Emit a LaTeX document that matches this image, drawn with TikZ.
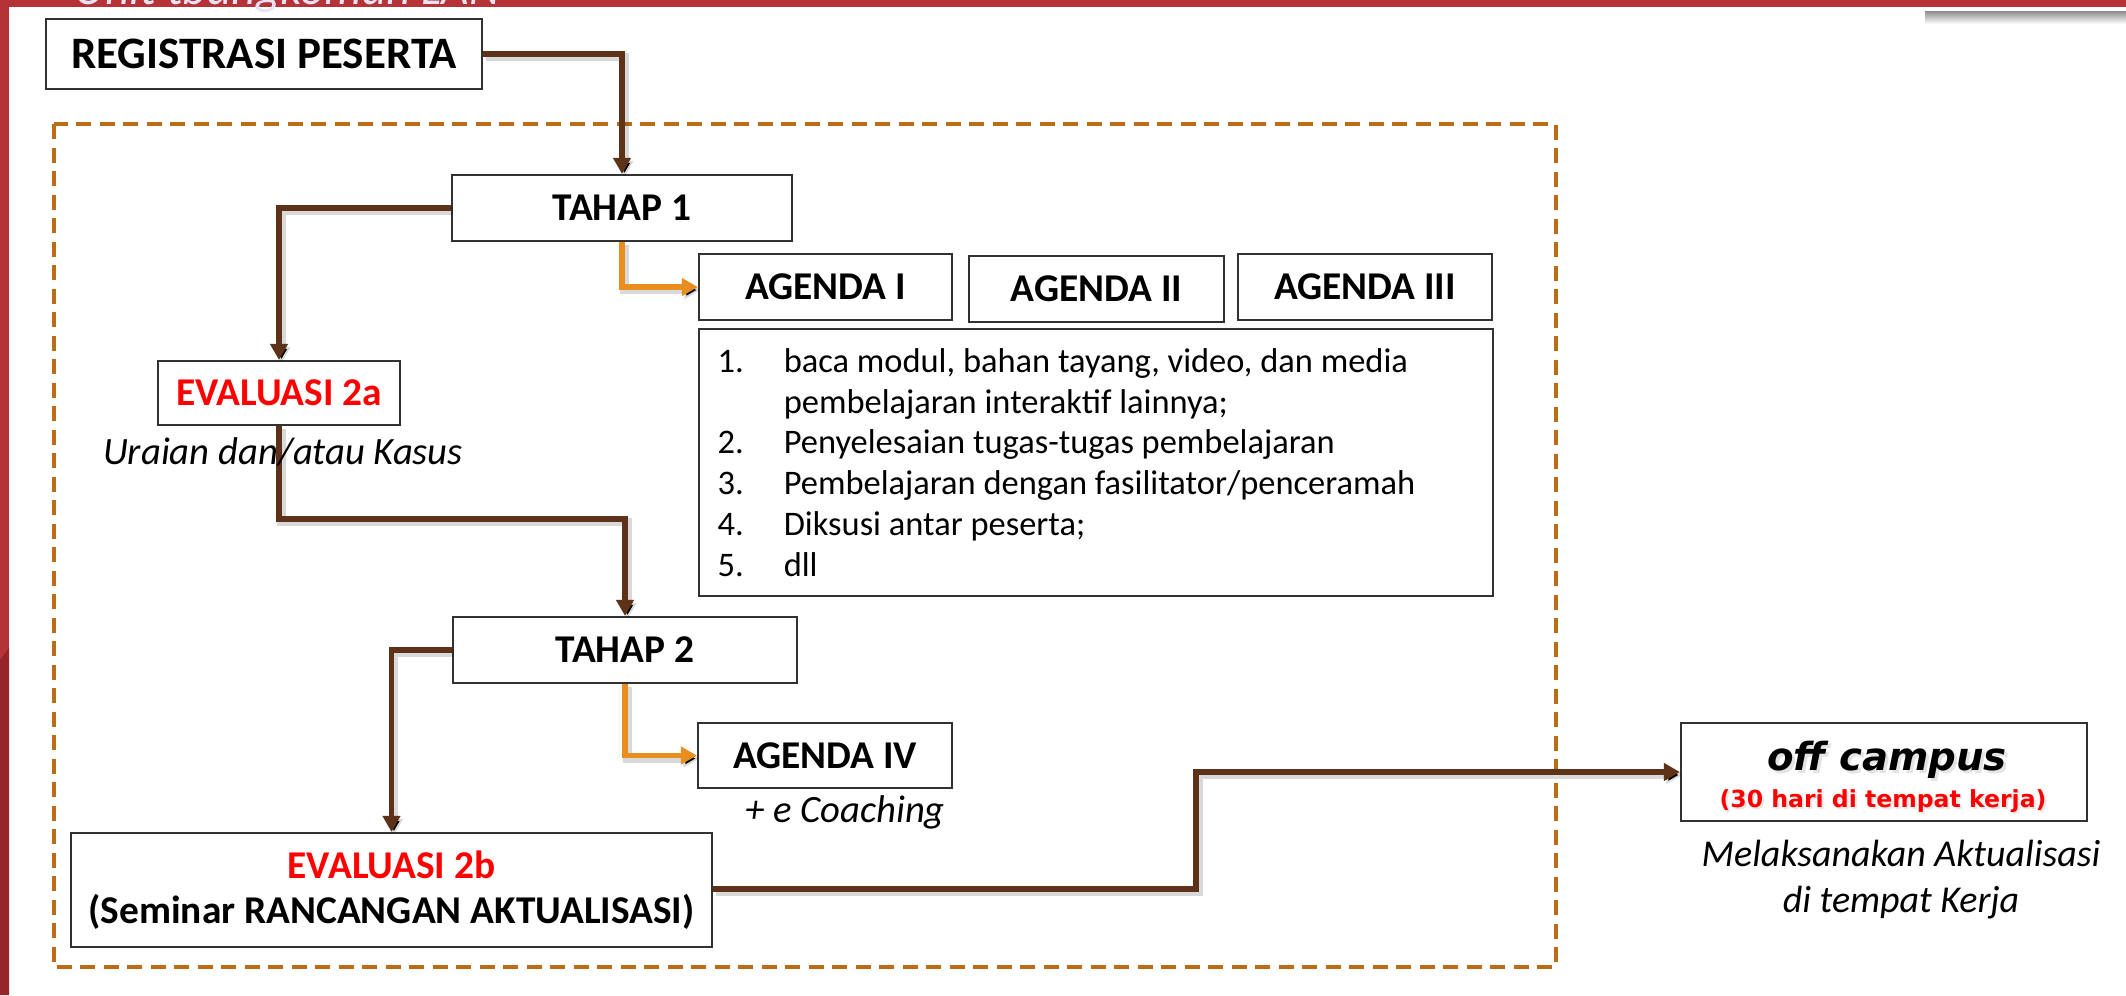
\documentclass[tikz,border=0pt]{standalone}
\usepackage{fontspec}
\setmainfont{Carlito}
\newfontfamily\verd{DejaVu Sans}
\usetikzlibrary{arrows.meta}
\definecolor{barred}{RGB}{181,50,54}
\definecolor{bardark}{RGB}{150,36,40}
\definecolor{lav}{RGB}{232,226,245}
\definecolor{brownln}{RGB}{94,50,25}
\definecolor{orangeln}{RGB}{232,142,30}
\definecolor{dashcol}{RGB}{188,108,22}
\definecolor{boxgray}{RGB}{50,50,50}
\definecolor{evalred}{RGB}{255,0,0}
\tikzset{
  box/.style={draw=boxgray, line width=0.6pt, fill=white, inner sep=0pt, align=center},
  boldtxt/.style={font=\fontsize{11.2}{13}\selectfont\bfseries},
  conn/.style={line width=1.45pt,
     -{Triangle[length=1.6mm,width=1.7mm]},
     preaction={draw=black, draw opacity=0.15, line width=2.4pt,
       transform canvas={xshift=0.25mm,yshift=-0.3mm}}},
  brownconn/.style={conn, draw=brownln},
  orangeconn/.style={conn, draw=orangeln},
  plain/.style={inner sep=0pt, align=center},
}
\begin{document}
\begin{tikzpicture}[x=0.1mm,y=-0.1mm]
\useasboundingbox (0,0) rectangle (2126,995);
\fill[white] (0,0) rectangle (2126,995);
% slide frame
\begin{scope}
\clip (0,0) rectangle (2126,995);
\fill[barred] (0,0) rectangle (2126,7);
\fill[barred] (0,0) rectangle (9,995);
\fill[bardark] (0,660) -- (9,648) -- (9,995) -- (0,995) -- cycle;
\shade[top color=black!45, bottom color=white] (1925,11) rectangle (2126,24);
\fill[white] (1921,7) rectangle (2126,11);
\node[anchor=base west, inner sep=0pt, text=lav,
      font=\fontsize{13.5}{15}\selectfont\itshape] (hdr) at (74,4) {Unit tbangkoman LAN};
\end{scope}
% dashed frame
\draw[dashcol, line width=1.05pt, dash pattern=on 1.5mm off 0.85mm]
  (54,124) rectangle (1556,967);
% boxes
\node[box, font=\fontsize{12.8}{15}\selectfont\bfseries, minimum width=43.6mm, minimum height=7mm] (reg) at (264,54) {REGISTRASI PESERTA};
\node[box, boldtxt, minimum width=34mm, minimum height=6.6mm] (t1) at (622,208) {TAHAP 1};
\node[box, boldtxt, text=evalred, minimum width=24.2mm, minimum height=6.4mm] (e2a) at (279,393) {EVALUASI 2a};
\node[box, boldtxt, minimum width=25.3mm, minimum height=6.6mm] (ag1) at (825.5,287) {AGENDA I};
\node[box, boldtxt, minimum width=25.5mm, minimum height=6.6mm] (ag2) at (1096.5,289) {AGENDA II};
\node[box, boldtxt, minimum width=25.4mm, minimum height=6.6mm] (ag3) at (1365,287) {AGENDA III};
\node[box, minimum width=79.4mm, minimum height=26.7mm] (list) at (1096,462.5) {};
\node[plain, anchor=north west, align=left, font=\fontsize{9.8}{11.6}\selectfont] (listtext) at (717,343)
{\begin{tabular}{@{}l@{}l@{}}
\makebox[18.8pt][l]{1.} & baca modul, bahan tayang, video, dan media\\
 & pembelajaran interaktif lainnya;\\
\makebox[18.8pt][l]{2.} & Penyelesaian tugas-tugas pembelajaran\\
\makebox[18.8pt][l]{3.} & Pembelajaran dengan fasilitator/penceramah\\
\makebox[18.8pt][l]{4.} & Diksusi antar peserta;\\
\makebox[18.8pt][l]{5.} & dll
\end{tabular}};
\node[box, boldtxt, minimum width=34.4mm, minimum height=6.6mm] (t2) at (625,650) {TAHAP 2};
\node[box, boldtxt, minimum width=25.4mm, minimum height=6.5mm] (ag4) at (825,755.5) {AGENDA IV};
\node[box, font=\fontsize{11.2}{12.8}\selectfont\bfseries, minimum width=64.1mm, minimum height=11.4mm] (e2b) at (391.5,890)
  {\textcolor{evalred}{EVALUASI 2b}\\(Seminar RANCANGAN AKTUALISASI)};
\node[box, minimum width=40.6mm, minimum height=9.8mm] (off) at (1884,772) {};
\node[plain, text=black!30, opacity=0.35, font=\verd\fontsize{11}{13}\selectfont\bfseries\itshape] (offtsh) at (1890,763) {off campus};
\node[plain, font=\verd\fontsize{11}{13}\selectfont\bfseries\itshape] (offt) at (1887,760) {off campus};
\node[plain, text=black!30, opacity=0.3, font=\verd\fontsize{6.7}{8}\selectfont\bfseries] (offssh) at (1885,803) {(30 hari di tempat kerja)};
\node[plain, text=evalred, font=\verd\fontsize{6.7}{8}\selectfont\bfseries] (offs) at (1883,801) {(30 hari di tempat kerja)};
% connectors
\draw[brownconn] (reg.east) -| (t1.north);
\draw[brownconn] (t1.west) -| (e2a.north);
\draw[orangeconn] (t1.south) |- (ag1.west);
\coordinate (mid1) at (279,519);
\draw[brownconn] (e2a.south) -- (mid1) -| (t2.north);
\draw[brownconn] (t2.west) -| (e2b.north);
\draw[orangeconn] (t2.south) |- (ag4.west);
\coordinate (mid2) at (1196,889);
\draw[brownconn] (e2b.east |- mid2) -- (mid2) |- (off.west);
% captions
\node[plain, font=\fontsize{11}{13}\selectfont\itshape] (cap2a) at (283,452) {Uraian dan/atau Kasus};
\node[plain, font=\fontsize{11}{12}\selectfont\itshape] (capag4) at (845,812) {+ e Coaching};
\node[plain, font=\fontsize{10.8}{13.1}\selectfont\itshape] (capoff) at (1901,880) {Melaksanakan Aktualisasi\\di tempat Kerja};
\end{tikzpicture}
\end{document}
